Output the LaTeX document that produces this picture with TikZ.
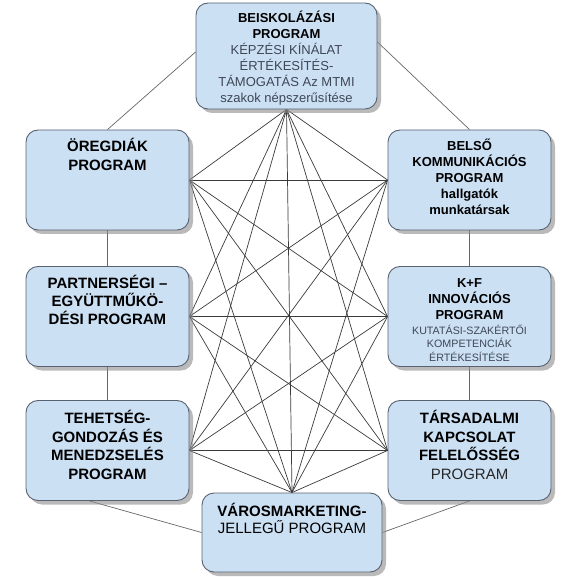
\documentclass[tikz,border=0pt]{standalone}
\usepackage{fontspec}
\setmainfont{Liberation Sans}
\usetikzlibrary{positioning, shadows, backgrounds}

\definecolor{boxfill}{HTML}{CCE0F4}
\definecolor{boxline}{HTML}{5A6272}
\definecolor{subtext}{HTML}{3E4756}
\definecolor{meshline}{HTML}{3A3A3A}

\begin{document}
\begin{tikzpicture}[x=1pt, y=-1pt,
    program/.style={rectangle, rounded corners=12pt, draw=boxline, line width=0.9pt, fill=boxfill,
        inner sep=0pt, minimum width=163pt, minimum height=100pt,
        drop shadow={shadow xshift=4pt, shadow yshift=-4pt, fill=black!45, opacity=0.6}},
    bigtitle/.style={align=center, inner sep=2pt, font=\fontsize{15}{18}\selectfont\bfseries},
    smalltitle/.style={align=center, inner sep=2pt, font=\fontsize{13}{16}\selectfont\bfseries},
    subtitle/.style={align=center, inner sep=2pt, text=subtext, font=\fontsize{10.7}{13.5}\selectfont},
    mesh/.style={draw=meshline, line width=0.7pt},
    ring/.style={draw=black!60, line width=0.7pt}
]
\useasboundingbox (0,0) rectangle (578,577);

% boxes
\node[program, minimum width=181pt, minimum height=106pt] (beisk) at (286.5,56) {};
\node[program] (oreg) at (107.5,180) {};
\node[program] (belso) at (469.5,180) {};
\node[program] (partner) at (107.5,316.5) {};
\node[program] (kf) at (469.5,316.5) {};
\node[program] (tehet) at (107.5,450.5) {};
\node[program] (tars) at (469.5,450.5) {};
\node[program, minimum width=180pt, minimum height=79pt] (varos) at (292,532.5) {};

% texts
\node[smalltitle, below=6pt of beisk.north] (beiskt) {BEISKOLÁZÁSI\\PROGRAM\\
    {\mdseries\color{subtext}KÉPZÉSI KÍNÁLAT}\\{\mdseries\color{subtext}ÉRTÉKESÍTÉS-}\\
    {\mdseries\color{subtext}TÁMOGATÁS Az MTMI}\\{\mdseries\color{subtext}szakok népszerűsítése}};
\node[bigtitle, font=\fontsize{15}{19}\selectfont\bfseries, below=6pt of oreg.north] (oregt) {ÖREGDIÁK\\PROGRAM};
\node[smalltitle, below=7pt of belso.north] (belsot) {BELSŐ\\KOMMUNIKÁCIÓS\\PROGRAM\\hallgatók\\munkatársak};
\node[bigtitle, below=7pt of partner.north] (partnert) {PARTNERSÉGI –\\EGYÜTTMŰKÖ-\\DÉSI PROGRAM};
\node[smalltitle, below=10pt of kf.north] (kft) {K+F\\INNOVÁCIÓS\\PROGRAM};
\node[subtitle, below=1pt of kft] (kfsub) {KUTATÁSI-SZAKÉRTŐI\\KOMPETENCIÁK\\ÉRTÉKESÍTÉSE};
\node[bigtitle, font=\fontsize{15}{18.5}\selectfont\bfseries, below=8pt of tehet.north] (tehett) {TEHETSÉG-\\GONDOZÁS ÉS\\MENEDZSELÉS\\PROGRAM};
\node[bigtitle, font=\fontsize{15}{18.5}\selectfont\bfseries, below=8pt of tars.north] (tarst) {TÁRSADALMI\\KAPCSOLAT\\FELELŐSSÉG\\{\mdseries\color{black!85}PROGRAM}};
\node[bigtitle, font=\fontsize{15}{17}\selectfont\bfseries, below=8pt of varos.north] (varost) {VÁROSMARKETING-\\{\mdseries JELLEGŰ PROGRAM}};

\begin{scope}[on background layer]
% outer ring
\draw[ring] ([yshift=4pt]beisk.west) -- (oreg.north);
\draw[ring] ([yshift=14pt]beisk.east) -- (belso.north);
\draw[ring] (oreg) -- (partner);
\draw[ring] (partner) -- (tehet);
\draw[ring] (belso) -- (kf);
\draw[ring] (kf) -- (tars);
\draw[ring] ([xshift=-18pt]tehet.south) -- (varos.west);
\draw[ring] (tars.south) -- (varos.east);

% inner mesh
\foreach \a in {oreg, partner, tehet}
  \foreach \b in {belso, kf, tars}
    \draw[mesh] (\a.east) -- (\b.west);
\foreach \a in {oreg.east, partner.east, tehet.east, belso.west, kf.west, tars.west, varos.north}
  \draw[mesh] (beisk.south) -- (\a);
\foreach \a in {oreg.east, partner.east, tehet.east, belso.west, kf.west, tars.west}
  \draw[mesh] (varos.north) -- (\a);
\end{scope}

\end{tikzpicture}
\end{document}
